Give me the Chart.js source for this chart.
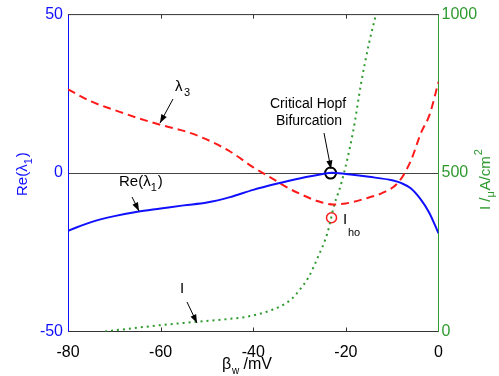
<!DOCTYPE html>
<html>
<head>
<meta charset="utf-8">
<script src="https://cdn.jsdelivr.net/npm/chart.js@4"></script>
<style>
  body { margin: 0; background: #fff; }
  #wrap { width: 499px; height: 376px; }
</style>
</head>
<body>
<div id="wrap"><canvas id="myChart"></canvas></div>
<script>
// beta_w (mV) samples for each curve
var reX = [-80, -75, -70, -65, -60, -55, -50, -45, -40, -35, -30, -25, -23, -20, -15, -10, -8, -6, -4, -2, 0];
var reY = [-18.2, -15.5, -13.6, -12.2, -11.2, -10.2, -9.3, -7.6, -5.3, -3.4, -1.7, -0.3, 0.1, -0.3, -1.2, -2.3, -3.2, -4.8, -8, -12.5, -19];

var l3X = [-80, -75, -69, -65, -60, -55, -51, -45, -40, -35, -33, -30, -26, -22.7, -20, -15, -12, -8.7, -6, -3.8, -1.9, 0];
var l3Y = [26.4, 22.6, 19.4, 17.4, 15.2, 13.3, 11.2, 6.8, 1.8, -2.5, -4.3, -6.5, -8.9, -9.9, -9.6, -7.7, -6.2, -3, 3.8, 12.6, 18.5, 28.8];

var iX = [-72, -65, -60, -52, -45, -42, -36, -32, -30, -28, -26, -24, -22.5, -21, -18.5, -16.7, -15, -13.5];
var iY = [0, 12, 20, 31, 40, 45, 68, 99, 131, 173, 236, 310, 400, 467, 626, 784, 910, 1000];

var hopfPt = [-23.3, 0];
var ihoPt = [-23.1, -14.1];

var xTicks = [-80, -60, -40, -20, 0];

function pts(xs, ys) {
  return xs.map(function (x, i) { return { x: x, y: ys[i] }; });
}

var BLUE = '#1010ff';
var RED = '#ff1a1a';
var GREEN = '#2e9a2e';
var FONT = '"Liberation Sans", Arial, sans-serif';

function arrow(c, x1, y1, x2, y2) {
  var a = Math.atan2(y2 - y1, x2 - x1);
  c.strokeStyle = '#000';
  c.lineWidth = 1;
  c.beginPath();
  c.moveTo(x1, y1);
  c.lineTo(x2, y2);
  c.stroke();
  c.fillStyle = '#000';
  c.beginPath();
  c.moveTo(x2, y2);
  c.lineTo(x2 - 9 * Math.cos(a - 0.35), y2 - 9 * Math.sin(a - 0.35));
  c.lineTo(x2 - 9 * Math.cos(a + 0.35), y2 - 9 * Math.sin(a + 0.35));
  c.closePath();
  c.fill();
}

var decor = {
  id: 'decor',
  afterDraw: function (chart) {
    var c = chart.ctx, a = chart.chartArea;
    var sx = chart.scales.x;
    c.save();
    // top frame line
    c.strokeStyle = '#333';
    c.lineWidth = 1;
    c.beginPath();
    c.moveTo(a.left, a.top);
    c.lineTo(a.right, a.top);
    c.stroke();
    // inward tick marks
    xTicks.slice(1, -1).forEach(function (v) {
      var px = Math.round(sx.getPixelForValue(v)) + 0.5;
      c.beginPath();
      c.moveTo(px, a.top); c.lineTo(px, a.top + 4);
      c.moveTo(px, a.bottom); c.lineTo(px, a.bottom - 4);
      c.stroke();
    });

    // annotations
    c.fillStyle = '#000';
    c.textBaseline = 'alphabetic';
    c.font = '15px ' + FONT;
    c.fillText('\u03bb', 175, 91);
    c.font = '11px ' + FONT;
    c.fillText('3', 184, 96);
    arrow(c, 173, 99, 160, 123);

    c.font = '15px ' + FONT;
    c.fillText('Re(\u03bb', 119, 186);
    var w = c.measureText('Re(\u03bb').width;
    c.font = '11px ' + FONT;
    c.fillText('1', 119 + w, 191);
    var w2 = c.measureText('1').width;
    c.font = '15px ' + FONT;
    c.fillText(')', 119 + w + w2 + 1, 186);
    arrow(c, 132, 197, 139, 211);

    c.font = '14px ' + FONT;
    c.fillText('Critical Hopf', 270, 108);
    c.fillText('Bifurcation', 276, 125);
    arrow(c, 324, 133, 331, 169);

    c.font = '15px ' + FONT;
    c.fillText('I', 343, 224);
    c.font = '11px ' + FONT;
    c.fillText('ho', 348, 236);

    c.font = '15px ' + FONT;
    c.fillText('I', 180, 293);
    arrow(c, 187, 302, 197, 323);

    // axis titles
    c.font = '16px ' + FONT;
    c.textAlign = 'left';
    c.fillText('\u03b2', 222, 369);
    c.font = '10px ' + FONT;
    c.fillText('w', 232, 374);
    c.font = '16px ' + FONT;
    c.fillText(' /mV', 239, 369);

    c.save();
    c.translate(27, 196);
    c.rotate(-Math.PI / 2);
    c.fillStyle = BLUE;
    c.font = '15px ' + FONT;
    c.fillText('Re(\u03bb', 0, 0);
    var lw = c.measureText('Re(\u03bb').width;
    c.font = '11px ' + FONT;
    c.fillText('1', lw, 5);
    c.font = '15px ' + FONT;
    c.fillText(')', lw + 7, 0);
    c.restore();

    c.save();
    c.translate(490, 210);
    c.rotate(-Math.PI / 2);
    c.fillStyle = GREEN;
    c.font = '15px ' + FONT;
    c.fillText('I /', 0, 0);
    var t = c.measureText('I /').width;
    c.font = '11px ' + FONT;
    c.fillText('\u03bc', t, 4);
    c.font = '15px ' + FONT;
    c.fillText('A/cm', t + 7, 0);
    var t2 = c.measureText('A/cm').width;
    c.font = '11px ' + FONT;
    c.fillText('2', t + 7 + t2 + 1, -8);
    c.restore();

    c.restore();
  }
};

var ctx = document.getElementById('myChart').getContext('2d');

var myChart = new Chart(ctx, {
  type: 'line',
  data: {
    datasets: [{
      label: 'Re(l1)',
      data: pts(reX, reY),
      yAxisID: 'y',
      borderColor: BLUE,
      borderWidth: 2,
      pointRadius: 0,
      cubicInterpolationMode: 'monotone'
    }, {
      label: 'l3',
      data: pts(l3X, l3Y),
      yAxisID: 'y',
      borderColor: RED,
      borderWidth: 2,
      borderDash: [8, 5],
      pointRadius: 0,
      cubicInterpolationMode: 'monotone'
    }, {
      label: 'I',
      data: pts(iX, iY),
      yAxisID: 'y2',
      borderColor: GREEN,
      borderWidth: 2,
      borderDash: [2, 4],
      pointRadius: 0,
      cubicInterpolationMode: 'monotone'
    }, {
      label: 'hopf',
      data: [{ x: hopfPt[0], y: hopfPt[1] }],
      yAxisID: 'y',
      showLine: false,
      pointRadius: 5.5,
      pointBorderWidth: 2,
      pointBorderColor: '#000',
      pointBackgroundColor: 'rgba(0,0,0,0)'
    }, {
      label: 'Iho',
      data: [{ x: ihoPt[0], y: ihoPt[1] }],
      yAxisID: 'y',
      showLine: false,
      pointRadius: 5,
      pointBorderWidth: 1.5,
      pointBorderColor: RED,
      pointBackgroundColor: 'rgba(0,0,0,0)'
    }]
  },
  options: {
    responsive: true,
    maintainAspectRatio: false,
    animation: false,
    layout: { padding: { top: 14, left: 0, right: 0, bottom: 0 } },
    plugins: { legend: { display: false }, tooltip: { enabled: false } },
    scales: {
      x: {
        type: 'linear',
        min: -80,
        max: 0,
        afterBuildTicks: function (s) { s.ticks = xTicks.map(function (v) { return { value: v }; }); },
        ticks: { color: '#000', font: { size: 16, family: FONT }, padding: 3, maxRotation: 0 },
        grid: { display: false },
        border: { color: '#333', width: 1 },
        afterFit: function (s) { s.height = 44.5; }
      },
      y: {
        position: 'left',
        min: -50,
        max: 50,
        ticks: { stepSize: 50, color: BLUE, font: { size: 16, family: FONT }, padding: 5 },
        grid: {
          drawTicks: false,
          color: function (c) { return c.tick && c.tick.value === 0 ? '#444' : 'rgba(0,0,0,0)'; }
        },
        border: { color: BLUE, width: 1 },
        afterFit: function (s) { s.width = 68; }
      },
      y2: {
        position: 'right',
        min: 0,
        max: 1000,
        ticks: {
          stepSize: 500, color: GREEN, font: { size: 16, family: FONT }, padding: 3,
          callback: function (v) { return String(v); }
        },
        grid: { display: false, drawTicks: false },
        border: { color: GREEN, width: 1 },
        afterFit: function (s) { s.width = 60.5; }
      }
    }
  },
  plugins: [decor]
});
</script>
</body>
</html>
